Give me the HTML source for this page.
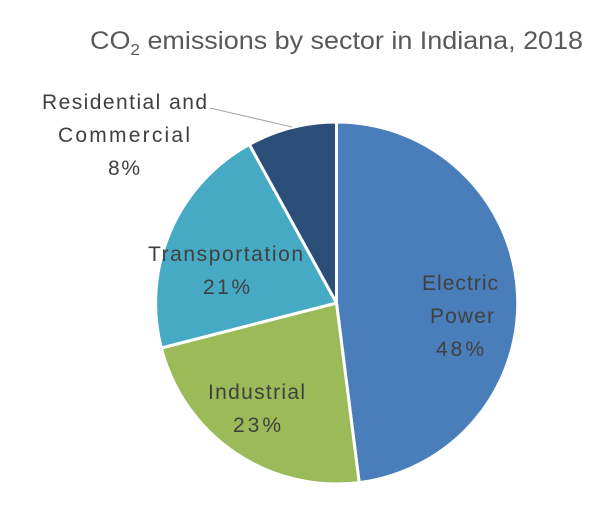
<!DOCTYPE html>
<html><head><meta charset="utf-8"><style>
html,body{margin:0;padding:0;background:#fff;}
svg{display:block;font-family:"Liberation Sans",sans-serif;}
</style></head><body>
<svg width="610" height="506" viewBox="0 0 610 506">
<text x="90" y="49" font-size="25" fill="#595959" textLength="493" lengthAdjust="spacingAndGlyphs">CO<tspan font-size="16" dy="6">2</tspan><tspan dy="-6"> emissions by sector in Indiana, 2018</tspan></text>
<g stroke="#fff" stroke-width="3" stroke-linejoin="round">
<path d="M336.5,303 L336.5,122 A181,181 0 0,1 359.2,482.6 Z" fill="#4a7ebb"/>
<path d="M336.5,303 L359.2,482.6 A181,181 0 0,1 161.3,348.0 Z" fill="#9bbb59"/>
<path d="M336.5,303 L161.3,348.0 A181,181 0 0,1 249.3,144.4 Z" fill="#46aac4"/>
<path d="M336.5,303 L249.3,144.4 A181,181 0 0,1 336.5,122 Z" fill="#2a4e77"/>
</g>
<line x1="210" y1="108" x2="292" y2="127" stroke="#a6a6a6" stroke-width="1"/>
<g font-size="21" fill="#404040" lengthAdjust="spacingAndGlyphs">
<text x="422" y="290" textLength="76">Electric</text>
<text x="430" y="323" textLength="64">Power</text>
<text x="436" y="356" textLength="48">48%</text>
<text x="208" y="399" textLength="97">Industrial</text>
<text x="233" y="432" textLength="48">23%</text>
<text x="148" y="261" textLength="155">Transportation</text>
<text x="203" y="294" textLength="47">21%</text>
<text x="42" y="109" textLength="165">Residential and</text>
<text x="58" y="142" textLength="132">Commercial</text>
<text x="108" y="175" textLength="32">8%</text>
</g>
</svg>
</body></html>
